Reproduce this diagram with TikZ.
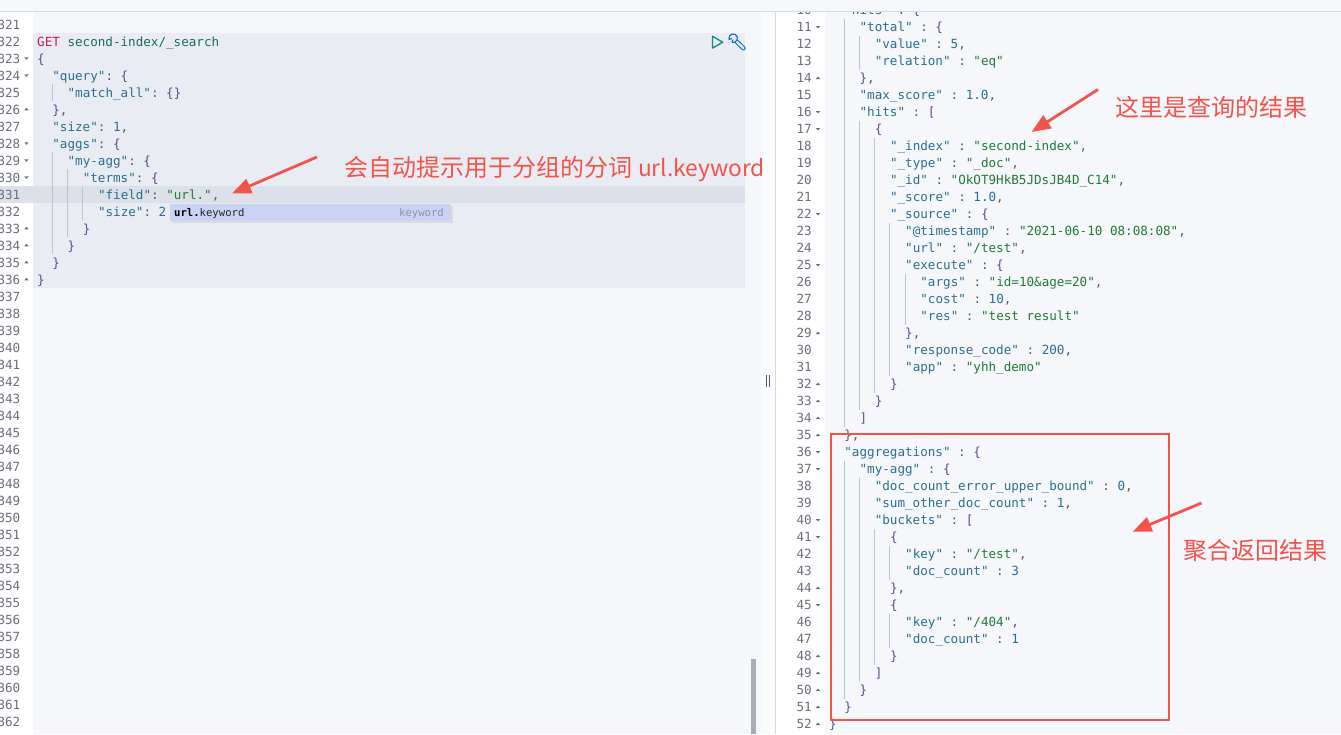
\documentclass[tikz,border=0pt]{standalone}
\usepackage{fontspec}
\setmonofont{DejaVu Sans Mono}
\newfontfamily\cjk{Noto Sans CJK SC}
\usetikzlibrary{arrows.meta}
\definecolor{topbg}{HTML}{F7F8FC}
\definecolor{lineb}{HTML}{D3DAE6}
\definecolor{panelbg}{HTML}{F5F7FA}
\definecolor{blockbg}{HTML}{E9ECF2}
\definecolor{actbg}{HTML}{DCE0E8}
\definecolor{divbg}{HTML}{FAFBFD}
\definecolor{keyc}{HTML}{2C6E91}
\definecolor{strc}{HTML}{237A38}
\definecolor{numc}{HTML}{2B6C94}
\definecolor{puncc}{HTML}{555A66}
\definecolor{bracec}{HTML}{5E4B8B}
\definecolor{getc}{HTML}{C8175D}
\definecolor{urlc}{HTML}{196B63}
\definecolor{lnc}{HTML}{69707D}
\definecolor{guidec}{HTML}{BFC4CC}
\definecolor{popbg}{HTML}{CAD3F5}
\definecolor{popg}{HTML}{8D929B}
\definecolor{playc}{HTML}{0E8A7E}
\definecolor{wrenchc}{HTML}{1A6FC6}
\definecolor{scrollc}{HTML}{A8ADB5}
\definecolor{divc}{HTML}{535966}
\definecolor{redc}{HTML}{F2534B}
\newcommand\jk[1]{\textcolor{keyc}{#1}}
\newcommand\js[1]{\textcolor{strc}{#1}}
\newcommand\jn[1]{\textcolor{numc}{#1}}
\newcommand\jp[1]{\textcolor{puncc}{#1}}
\newcommand\jb[1]{\textcolor{bracec}{#1}}
\newcommand\jc{\textcolor{puncc}{\ :\ }}
\newcommand\jd{\textcolor{puncc}{:\ }}
\newcommand\LL[3]{%
  \pgfmathsetmacro\yb{29+(#1-321)*17}%
  \node[code] (l#1) at ({37+#2*15.2},\yb) {#3};%
  \pgfmathtruncatemacro\gl{#2-1}%
  \ifnum\gl>0\relax
    \foreach \g in {1,...,\gl}{\draw[guide] ({37+\g*15.2},{\yb-13}) -- ++(0,17);}%
  \fi}
\newcommand\RL[3]{%
  \pgfmathsetmacro\yb{31.7+(#1-11)*17}%
  \node[code] (r#1) at ({829+#2*15.2},\yb) {#3};%
  \pgfmathtruncatemacro\gl{#2-1}%
  \ifnum\gl>0\relax
    \foreach \g in {1,...,\gl}{\draw[guide] ({829+\g*15.2},{\yb-13}) -- ++(0,17);}%
  \fi}
\begin{document}
\begin{tikzpicture}[x=1pt,y=-1pt,
  code/.style={anchor=base west,inner sep=0,font=\ttfamily\fontsize{12.6}{15}\selectfont},
  lnum/.style={anchor=base east,inner sep=0,text=lnc,font=\ttfamily\fontsize{12.6}{15}\selectfont},
  guide/.style={draw=guidec,line width=0.9pt},
  note/.style={anchor=base west,inner sep=0,text=redc,font=\cjk\fontsize{24}{28}\selectfont},
  redarrow/.style={draw=redc,line width=2.8pt,-{Triangle[length=19pt,width=15pt]}}]
\useasboundingbox (0,0) rectangle (1341,734);
% backgrounds
\fill[white] (0,0) rectangle (1341,734);
\fill[white] (0,11) rectangle (33,734);
\fill[panelbg] (33,11) rectangle (761,734);
\fill[blockbg] (33,33) rectangle (744.5,288);
\fill[actbg] (0,186) rectangle (744.5,203);
\fill[divbg] (761,11) rectangle (775,734);
\draw[lineb,line width=0.8pt] (775.5,11) -- (775.5,734);
\fill[white] (776,11) rectangle (825,734);
\fill[panelbg] (825,11) rectangle (1341,734);
% left line numbers
\foreach \n in {321,...,362}{\node[lnum] (ln\n) at (20.5,{29+(\n-321)*17}) {\n};}
% left folds
\foreach \n in {323,324,328,329,330}{\fill[lnc] (24.3,{29+(\n-321)*17-5.7}) -- (28.7,{29+(\n-321)*17-5.7}) -- (26.5,{29+(\n-321)*17-3.2}) -- cycle;}
\foreach \n in {326,333,334,335,336}{\fill[lnc] (24.3,{29+(\n-321)*17-3.7}) -- (28.7,{29+(\n-321)*17-3.7}) -- (26.5,{29+(\n-321)*17-6.2}) -- cycle;}
% left code
\LL{322}{0}{\textcolor{getc}{GET}\ \textcolor{urlc}{second-index/\_search}}
\LL{323}{0}{\jb{\{}}
\LL{324}{1}{\jk{"query"}\jd\jb{\{}}
\LL{325}{2}{\jk{"match\_all"}\jd\jb{\{\}}}
\LL{326}{1}{\jb{\}}\jp{,}}
\LL{327}{1}{\jk{"size"}\jd\jn{1}\jp{,}}
\LL{328}{1}{\jk{"aggs"}\jd\jb{\{}}
\LL{329}{2}{\jk{"my-agg"}\jd\jb{\{}}
\LL{330}{3}{\jk{"terms"}\jd\jb{\{}}
\LL{331}{4}{\jk{"field"}\jd\js{"url."}\jp{,}}
\LL{332}{4}{\jk{"size"}\jd\jn{2}}
\LL{333}{3}{\jb{\}}}
\LL{334}{2}{\jb{\}}}
\LL{335}{1}{\jb{\}}}
\LL{336}{0}{\jb{\}}}
% autocomplete popup
\fill[black!14] (171.5,205.5) rectangle (452.5,222.5);
\node[fill=popbg,inner sep=0,minimum width=281pt,minimum height=17pt,anchor=north west] (pop) at (170,204) {};
\node[anchor=base west,inner sep=0,font=\ttfamily\fontsize{10.6}{12}\selectfont,text=black!85] (popk) at (174,216.5) {\textbf{\textcolor{black}{url.}}keyword};
\node[anchor=base east,inner sep=0,font=\ttfamily\fontsize{10.6}{12}\selectfont,text=popg] (popt) at (444,216.5) {keyword};
% icons
\draw[playc,line width=1.3pt,line join=round] (712.5,36.3) -- (722.8,42.2) -- (712.5,48.1) -- cycle;
\draw[wrenchc,line width=1.1pt,double=blockbg,double distance=2.3pt,line cap=round] (735.6,40.6) -- (743.4,48.2);
\fill[blockbg] (733.2,38.2) circle (4.6);
\draw[wrenchc,line width=1.2pt] (733.2,38.2) ++(165:4.3) arc (165:465:4.3);
\draw[wrenchc,line width=1.2pt,line cap=round] (733.2,38.2) ++(165:4.3) -- ++(-15:2.6);
\draw[wrenchc,line width=1.2pt,line cap=round] (733.2,38.2) ++(105:4.3) -- ++(-75:2.6);
% scrollbar and divider
\fill[scrollc] (751,659) rectangle (755.5,734);
\draw[divc,line width=0.9pt] (766.5,375) -- (766.5,387);
\draw[divc,line width=0.9pt] (769.5,375) -- (769.5,387);
% right line numbers
\foreach \n in {10,...,52}{\node[lnum] (rn\n) at (812,{31.7+(\n-11)*17}) {\n};}
\foreach \n in {11,16,17,22,25,36,37,40,41,45}{\fill[lnc] (815.8,{31.7+(\n-11)*17-5.7}) -- (820.2,{31.7+(\n-11)*17-5.7}) -- (818,{31.7+(\n-11)*17-3.2}) -- cycle;}
\foreach \n in {14,29,32,33,34,35,44,48,49,50,51,52}{\fill[lnc] (815.8,{31.7+(\n-11)*17-3.7}) -- (820.2,{31.7+(\n-11)*17-3.7}) -- (818,{31.7+(\n-11)*17-6.2}) -- cycle;}
% right code
\RL{10}{1}{\jk{"hits"}\jc\jb{\{}}
\RL{11}{2}{\jk{"total"}\jc\jb{\{}}
\RL{12}{3}{\jk{"value"}\jc\jn{5}\jp{,}}
\RL{13}{3}{\jk{"relation"}\jc\js{"eq"}}
\RL{14}{2}{\jb{\}}\jp{,}}
\RL{15}{2}{\jk{"max\_score"}\jc\jn{1.0}\jp{,}}
\RL{16}{2}{\jk{"hits"}\jc\jb{[}}
\RL{17}{3}{\jb{\{}}
\RL{18}{4}{\jk{"\_index"}\jc\js{"second-index"}\jp{,}}
\RL{19}{4}{\jk{"\_type"}\jc\js{"\_doc"}\jp{,}}
\RL{20}{4}{\jk{"\_id"}\jc\js{"OkOT9HkB5JDsJB4D\_C14"}\jp{,}}
\RL{21}{4}{\jk{"\_score"}\jc\jn{1.0}\jp{,}}
\RL{22}{4}{\jk{"\_source"}\jc\jb{\{}}
\RL{23}{5}{\jk{"@timestamp"}\jc\js{"2021-06-10\ 08:08:08"}\jp{,}}
\RL{24}{5}{\jk{"url"}\jc\js{"/test"}\jp{,}}
\RL{25}{5}{\jk{"execute"}\jc\jb{\{}}
\RL{26}{6}{\jk{"args"}\jc\js{"id=10\&age=20"}\jp{,}}
\RL{27}{6}{\jk{"cost"}\jc\jn{10}\jp{,}}
\RL{28}{6}{\jk{"res"}\jc\js{"test\ result"}}
\RL{29}{5}{\jb{\}}\jp{,}}
\RL{30}{5}{\jk{"response\_code"}\jc\jn{200}\jp{,}}
\RL{31}{5}{\jk{"app"}\jc\js{"yhh\_demo"}}
\RL{32}{4}{\jb{\}}}
\RL{33}{3}{\jb{\}}}
\RL{34}{2}{\jb{]}}
\RL{35}{1}{\jb{\}}\jp{,}}
\RL{36}{1}{\jk{"aggregations"}\jc\jb{\{}}
\RL{37}{2}{\jk{"my-agg"}\jc\jb{\{}}
\RL{38}{3}{\jk{"doc\_count\_error\_upper\_bound"}\jc\jn{0}\jp{,}}
\RL{39}{3}{\jk{"sum\_other\_doc\_count"}\jc\jn{1}\jp{,}}
\RL{40}{3}{\jk{"buckets"}\jc\jb{[}}
\RL{41}{4}{\jb{\{}}
\RL{42}{5}{\jk{"key"}\jc\js{"/test"}\jp{,}}
\RL{43}{5}{\jk{"doc\_count"}\jc\jn{3}}
\RL{44}{4}{\jb{\}}\jp{,}}
\RL{45}{4}{\jb{\{}}
\RL{46}{5}{\jk{"key"}\jc\js{"/404"}\jp{,}}
\RL{47}{5}{\jk{"doc\_count"}\jc\jn{1}}
\RL{48}{4}{\jb{\}}}
\RL{49}{3}{\jb{]}}
\RL{50}{2}{\jb{\}}}
\RL{51}{1}{\jb{\}}}
\RL{52}{0}{\jb{\}}}
% top strip
\fill[topbg] (0,0) rectangle (1341,11);
\draw[lineb,line width=1pt] (0,11) -- (1341,11);
% annotations
\node[draw=redc,line width=2pt,inner sep=0,minimum width=338pt,minimum height=286pt,anchor=north west] (aggbox) at (830,433) {};
\node[note] (n1) at (344.5,176.5) {会自动提示用于分组的分词 {\fontsize{22.8}{26}\selectfont url.keyword}};
\node[note] (n2) at (1115,116) {这里是查询的结果};
\node[note] (n3) at (1183,559) {聚合返回结果};
\coordinate (a1s) at (317,157);
\coordinate (a1e) at (232,193.5);
\coordinate (a2s) at (1098,89.5);
\coordinate (a2e) at (1031.5,132);
\coordinate (a3s) at (1201.5,503);
\coordinate (a3e) at (1132.5,531.7);
\draw[redarrow] (a1s) -- (a1e);
\draw[redarrow] (a2s) -- (a2e);
\draw[redarrow] (a3s) -- (a3e);
\end{tikzpicture}
\end{document}
